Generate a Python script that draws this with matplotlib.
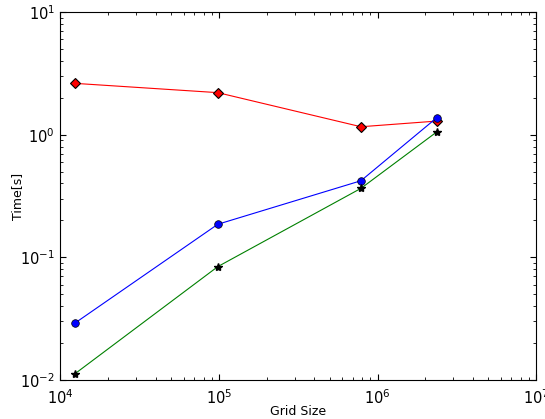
import matplotlib
matplotlib.use("Agg")
import matplotlib.pyplot as plt

grid_size = [12288, 98304, 786432, 2359296]
time_red = [2.62, 2.20, 1.16, 1.29]
time_blue = [0.029, 0.186, 0.421, 1.37]
time_green = [0.0112, 0.084, 0.365, 1.05]

fig = plt.figure(figsize=(5.45, 4.19), dpi=100)
ax = fig.add_axes([0.111, 0.0931, 0.8725, 0.8783])

ax.plot(grid_size, time_red, color="red", lw=0.8, marker="D", markersize=5.5,
        markerfacecolor="red", markeredgecolor="black", markeredgewidth=0.8)
ax.plot(grid_size, time_blue, color="blue", lw=0.8, marker="o", markersize=5.5,
        markerfacecolor="blue", markeredgecolor="black", markeredgewidth=0.5)
ax.plot(grid_size, time_green, color="green", lw=0.8, marker="*", markersize=6,
        markerfacecolor="black", markeredgecolor="black")

ax.set_xscale("log")
ax.set_yscale("log")
ax.set_xlim(1e4, 1e7)
ax.set_ylim(1e-2, 1e1)
ax.set_xlabel("Grid Size", fontsize=9)
ax.set_ylabel("Time[s]", fontsize=9)
ax.xaxis.set_label_coords(0.5, -0.068)
ax.yaxis.set_label_coords(-0.077, 0.5)
ax.tick_params(which="both", direction="in", top=True, right=True, labelsize=10.5)
ax.tick_params(which="major", length=4)
ax.tick_params(which="minor", length=2)
ax.tick_params(axis="x", which="major", pad=6)
ax.tick_params(axis="y", which="major", pad=4)

fig.savefig("out.png", dpi=100)
